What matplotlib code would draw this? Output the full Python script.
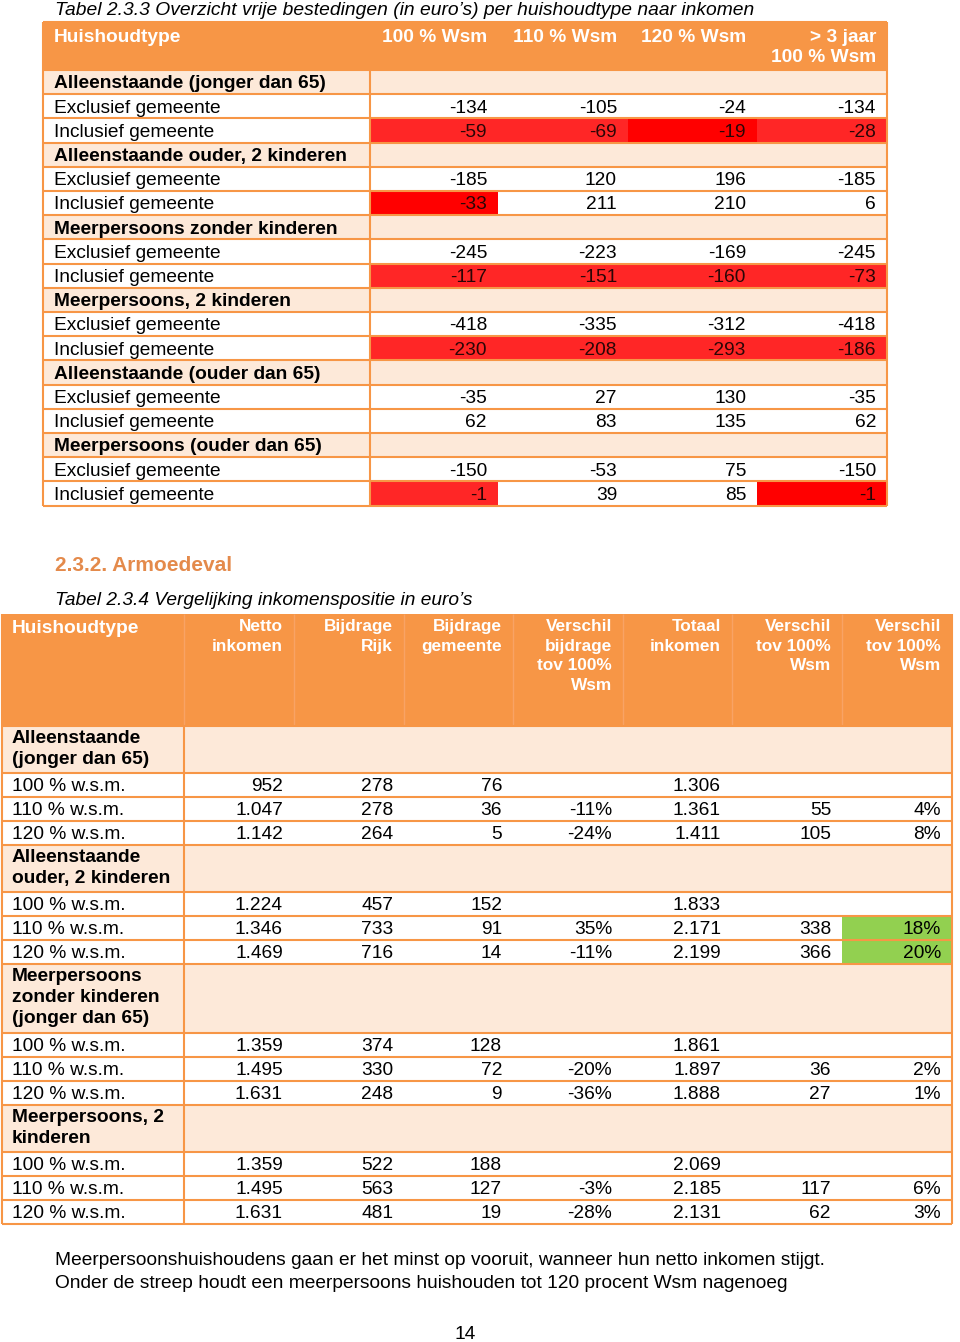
import matplotlib.pyplot as plt
from matplotlib.patches import Rectangle

plt.rcParams['font.family'] = ['Liberation Sans', 'DejaVu Sans']

# ---- Tabel 2.3.3 data ----
t1_columns = ['100 % Wsm', '110 % Wsm', '120 % Wsm', '> 3 jaar\n100 % Wsm']
t1_groups = ['Alleenstaande (jonger dan 65)', 'Alleenstaande ouder, 2 kinderen',
             'Meerpersoons zonder kinderen', 'Meerpersoons, 2 kinderen',
             'Alleenstaande (ouder dan 65)', 'Meerpersoons (ouder dan 65)']
t1_rows = ['Exclusief gemeente', 'Inclusief gemeente']
t1_excl = [[-134, -105, -24, -134],
           [-185, 120, 196, -185],
           [-245, -223, -169, -245],
           [-418, -335, -312, -418],
           [-35, 27, 130, -35],
           [-150, -53, 75, -150]]
t1_incl = [[-59, -69, -19, -28],
           [-33, 211, 210, 6],
           [-117, -151, -160, -73],
           [-230, -208, -293, -186],
           [62, 83, 135, 62],
           [-1, 39, 85, -1]]
# cells (group, column) that are bright red instead of light red
t1_bright = {(0, 2), (1, 0), (5, 3)}

# ---- Tabel 2.3.4 data ----
t2_columns = ['Netto\ninkomen', 'Bijdrage\nRijk', 'Bijdrage\ngemeente',
              'Verschil\nbijdrage\ntov 100%\nWsm', 'Totaal\ninkomen',
              'Verschil\ntov 100%\nWsm', 'Verschil\ntov 100%\nWsm']
t2_groups = ['Alleenstaande\n(jonger dan 65)', 'Alleenstaande\nouder, 2 kinderen',
             'Meerpersoons\nzonder kinderen\n(jonger dan 65)', 'Meerpersoons, 2\nkinderen']
t2_levels = ['100 % w.s.m.', '110 % w.s.m.', '120 % w.s.m.']
netto = [[952, 1047, 1142], [1224, 1346, 1469], [1359, 1495, 1631], [1359, 1495, 1631]]
rijk = [[278, 278, 264], [457, 733, 716], [374, 330, 248], [522, 563, 481]]
gemeente = [[76, 36, 5], [152, 91, 14], [128, 72, 9], [188, 127, 19]]
verschil_bijdrage = [[None, -11, -24], [None, 35, -11], [None, -20, -36], [None, -3, -28]]
totaal = [[1306, 1361, 1411], [1833, 2171, 2199], [1861, 1897, 1888], [2069, 2185, 2131]]
verschil_euro = [[None, 55, 105], [None, 338, 366], [None, 36, 27], [None, 117, 62]]
verschil_pct = [[None, 4, 8], [None, 18, 20], [None, 2, 1], [None, 6, 3]]

ORANGE = '#F79646'
PEACH = '#FDE9D9'
RED = '#FF2626'
BRIGHT = '#FF0000'
GREEN = '#92D050'
DARKTXT = '#2A0606'
FS = 13.8
LW = 1.5


def fmt_num(v):
    if v is None:
        return ''
    return f'{v:,}'.replace(',', '.')


def fmt_pct(v):
    if v is None:
        return ''
    return f'{v}%'


fig = plt.figure(figsize=(9.6, 13.42), dpi=100)
ax = fig.add_axes([0, 0, 1, 1])
ax.set_xlim(0, 960)
ax.set_ylim(1342, 0)
ax.axis('off')


def box(x0, y0, x1, y1, color):
    ax.add_patch(Rectangle((x0, y0), x1 - x0, y1 - y0, facecolor=color,
                           edgecolor='none', zorder=1))


def hline(y, x0, x1, color=ORANGE, lw=LW):
    ax.plot([x0, x1], [y, y], color=color, lw=lw, zorder=3, solid_capstyle='butt')


def vline(x, y0, y1, color=ORANGE, lw=LW):
    ax.plot([x, x], [y0, y1], color=color, lw=lw, zorder=3, solid_capstyle='butt')


def cell_text(x, yc, s, **kw):
    # baseline placed so that capitals sit centred on yc
    ax.text(x, yc + 6.3, s, fontsize=kw.pop('fontsize', FS), va='baseline', zorder=4, **kw)


# ================= Tabel 2.3.3 =================
ax.text(55, 15, 'Tabel 2.3.3 Overzicht vrije bestedingen (in euro\u2019s) per huishoudtype naar inkomen',
        fontsize=13.9, style='italic', va='baseline', ha='left')

L1, R1 = 43, 887
c1_edges = [370, 498, 628, 757, 887]
top1, head1 = 22, 70
rh1 = 24.2

box(L1, top1, R1, head1, ORANGE)
cell_text(54, 36, 'Huishoudtype', color='white', fontweight='bold')
for j, col in enumerate(t1_columns):
    ax.text(c1_edges[j + 1] - 11, 29, col, color='white', fontsize=FS, fontweight='bold',
            va='top', ha='right', linespacing=1.25, multialignment='right')

y = head1
for g, grp in enumerate(t1_groups):
    box(L1, y, R1, y + rh1, PEACH)
    cell_text(54, y + rh1 / 2, grp, fontweight='bold')
    hline(y, L1, R1)
    y += rh1
    for r, (label, vals) in enumerate(zip(t1_rows, [t1_excl[g], t1_incl[g]])):
        hline(y, L1, R1)
        for j, v in enumerate(vals):
            color = 'black'
            if r == 1 and v < 0:
                fill = BRIGHT if (g, j) in t1_bright else RED
                box(c1_edges[j], y, c1_edges[j + 1], y + rh1, fill)
                color = DARKTXT
            cell_text(c1_edges[j + 1] - 11, y + rh1 / 2, str(v), ha='right', color=color)
        cell_text(54, y + rh1 / 2, label)
        y += rh1
bottom1 = y
hline(bottom1, L1, R1)
vline(L1, top1, bottom1)
vline(R1, top1, bottom1)
vline(c1_edges[0], head1, bottom1)
hline(top1, L1, R1)

# ================= section heading =================
ax.text(55, 571, '2.3.2. Armoedeval', fontsize=15, fontweight='bold', color='#E48A4B',
        va='baseline')
cell_text(55, 599, 'Tabel 2.3.4 Vergelijking inkomenspositie in euro\u2019s', style='italic')

# ================= Tabel 2.3.4 =================
L2, R2 = 2, 952
c2_edges = [184, 294, 404, 513, 623, 732, 842, 952]
top2, head2 = 614, 726
rh2 = 24
line_h = 22

box(L2, top2, R2, head2, ORANGE)
for xe in c2_edges[:-1]:
    vline(xe, top2, head2, color='#F8A365', lw=1.0)
cell_text(12, 627, 'Huishoudtype', color='white', fontweight='bold')
for j, col in enumerate(t2_columns):
    ax.text(c2_edges[j + 1] - 11, 619, col, color='white', fontsize=12.4, fontweight='bold',
            va='top', ha='right', linespacing=1.38, multialignment='right')

columns_data = [netto, rijk, gemeente, verschil_bijdrage, totaal, verschil_euro, verschil_pct]
formatters = [fmt_num, fmt_num, fmt_num, fmt_pct, fmt_num, fmt_num, fmt_pct]

y = head2
for g, grp in enumerate(t2_groups):
    nlines = grp.count('\n') + 1
    gh = nlines * line_h + 3
    box(L2, y, R2, y + gh, PEACH)
    hline(y, L2, R2)
    ax.text(12, y + 4, grp, fontsize=FS, fontweight='bold', va='top', linespacing=1.3)
    y += gh
    for i, lev in enumerate(t2_levels):
        hline(y, L2, R2)
        cell_text(12, y + rh2 / 2, lev)
        for j, (data, f) in enumerate(zip(columns_data, formatters)):
            v = data[g][i]
            if j == 6 and v is not None and v >= 10:
                box(c2_edges[j], y, c2_edges[j + 1], y + rh2, GREEN)
            cell_text(c2_edges[j + 1] - 11, y + rh2 / 2, f(v), ha='right')
        y += rh2
bottom2 = y
hline(bottom2, L2, R2)
vline(L2, top2, bottom2)
vline(R2, top2, bottom2)
vline(c2_edges[0], head2, bottom2)

# ================= footer =================
cell_text(55, 1259, 'Meerpersoonshuishoudens gaan er het minst op vooruit, wanneer hun netto inkomen stijgt.')
cell_text(55, 1282, 'Onder de streep houdt een meerpersoons huishouden tot 120 procent Wsm nagenoeg')
ax.text(465, 1339, '14', fontsize=FS, va='baseline', ha='center')

fig.savefig('out.png', dpi=100)
